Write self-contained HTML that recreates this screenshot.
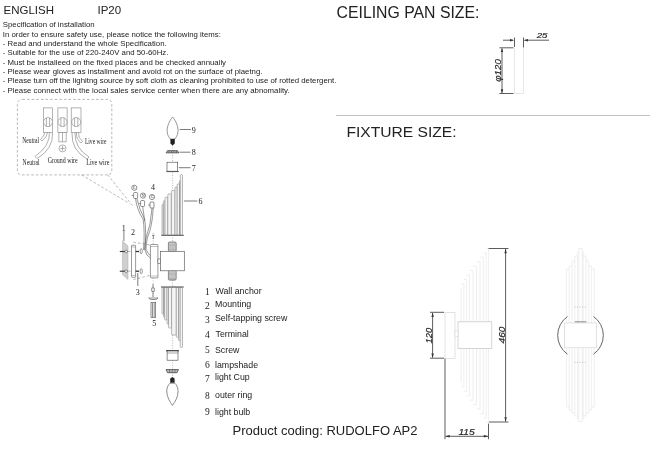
<!DOCTYPE html>
<html><head><meta charset="utf-8">
<style>
html,body{margin:0;padding:0;background:#fff;width:650px;height:449px;overflow:hidden}
svg{position:absolute;left:0;top:0;display:block;will-change:transform}
.s{font-family:"Liberation Sans",sans-serif;fill:#222}
.r{font-family:"Liberation Serif",serif;fill:#222}
</style></head><body>
<svg width="650" height="449" viewBox="0 0 650 449">
<!-- header text -->
<g class="s">
<text x="3.5" y="14.4" font-size="11.5">ENGLISH</text>
<text x="97.5" y="14.4" font-size="11.5">IP20</text>
<g font-size="7.8">
<text x="2.8" y="27.2">Specification of installation</text>
<text x="2.8" y="36.5">In order to ensure safety use, please notice the following items:</text>
<text x="2.8" y="45.9">- Read and understand the whole Specification.</text>
<text x="2.8" y="55.2">- Suitable for the use of 220-240V and 50-60Hz.</text>
<text x="2.8" y="64.6">- Must be installeed on the fixed places and be checked annually</text>
<text x="2.8" y="73.9">- Please wear gloves as installment and avoid rot on the surface of plaetng.</text>
<text x="2.8" y="83.3">- Please turn off the lighitng source by soft cloth as cleaning prohibited to use of rotted detergent.</text>
<text x="2.8" y="92.6">- Please connect with the local sales service center when there are any abnomality.</text>
</g>
<text x="336.6" y="18" font-size="15.8">CEILING PAN SIZE:</text>
<text x="346.5" y="136.5" font-size="15.2" textLength="110" lengthAdjust="spacingAndGlyphs">FIXTURE SIZE:</text>
<text x="232.5" y="435" font-size="13">Product coding: RUDOLFO AP2</text>
<g font-size="8.8">
<text x="215.5" y="293.8">Wall anchor</text>
<text x="215" y="307">Mounting</text>
<text x="215" y="321.2">Self-tapping screw</text>
<text x="215.5" y="337.2">Terminal</text>
<text x="215" y="352.6">Screw</text>
<text x="215" y="368">lampshade</text>
<text x="215" y="380">light Cup</text>
<text x="215" y="397.5">outer ring</text>
<text x="215" y="414.8">light bulb</text>
</g>
</g>
<g class="r" font-size="9.5">
<text x="205" y="295">1</text>
<text x="205" y="308.5">2</text>
<text x="205" y="323">3</text>
<text x="205" y="337.7">4</text>
<text x="205" y="353.4">5</text>
<text x="205" y="368">6</text>
<text x="205" y="382">7</text>
<text x="205" y="398.7">8</text>
<text x="205" y="415">9</text>
</g>
<!-- ceiling pan dims -->
<g stroke="#333" stroke-width="0.8" fill="none">
<line x1="503" y1="40.2" x2="513" y2="40.2"/>
<line x1="514.5" y1="37.5" x2="514.5" y2="47"/>
<line x1="523.5" y1="37.5" x2="523.5" y2="47.5"/>
<line x1="524.5" y1="40.2" x2="549" y2="40.2"/>
<line x1="499.4" y1="47.8" x2="513.5" y2="47.8"/>
<line x1="499.4" y1="93.5" x2="513.5" y2="93.5"/>
<line x1="502" y1="48.5" x2="502" y2="93"/>
</g>
<g fill="#333">
<path d="M514 40.2 L510 39 L510 41.4Z"/>
<path d="M524 40.2 L528 39 L528 41.4Z"/>
<path d="M502 48 L500.8 52 L503.2 52Z"/>
<path d="M502 93.3 L500.8 89.3 L503.2 89.3Z"/>
</g>
<g stroke="#ddd" stroke-width="0.7">
<line x1="514.5" y1="47.8" x2="514.5" y2="93.5"/>
<line x1="523.5" y1="47.8" x2="523.5" y2="93.5"/>
<line x1="514.5" y1="93.5" x2="523.5" y2="93.5"/>
</g>
<text class="s" x="536.8" y="38.3" font-size="6.8" font-style="italic" stroke="#333" stroke-width="0.2" textLength="10.6" lengthAdjust="spacingAndGlyphs">25</text>
<text class="s" font-size="9.2" font-style="italic" stroke="#333" stroke-width="0.2" transform="translate(501.3,81.8) rotate(-90)" textLength="22.6" lengthAdjust="spacingAndGlyphs">&#966;120</text>
<!-- fixture side view -->
<g stroke="#e2e2e2" stroke-width="0.55" fill="none">
<line x1="461.1" y1="288.4" x2="461.1" y2="382.4"/>
<line x1="463.9" y1="283.9" x2="463.9" y2="386.9"/>
<line x1="461.1" y1="283.9" x2="463.9" y2="283.9"/>
<line x1="461.1" y1="386.9" x2="463.9" y2="386.9"/>
<line x1="466.7" y1="279.5" x2="466.7" y2="391.3"/>
<line x1="463.9" y1="279.5" x2="466.7" y2="279.5"/>
<line x1="463.9" y1="391.3" x2="466.7" y2="391.3"/>
<line x1="469.5" y1="275.0" x2="469.5" y2="395.8"/>
<line x1="466.7" y1="275.0" x2="469.5" y2="275.0"/>
<line x1="466.7" y1="395.8" x2="469.5" y2="395.8"/>
<line x1="473.0" y1="270.6" x2="473.0" y2="400.2"/>
<line x1="469.5" y1="270.6" x2="473.0" y2="270.6"/>
<line x1="469.5" y1="400.2" x2="473.0" y2="400.2"/>
<line x1="476.5" y1="266.1" x2="476.5" y2="404.7"/>
<line x1="473.0" y1="266.1" x2="476.5" y2="266.1"/>
<line x1="473.0" y1="404.7" x2="476.5" y2="404.7"/>
<line x1="480.0" y1="261.7" x2="480.0" y2="409.1"/>
<line x1="476.5" y1="261.7" x2="480.0" y2="261.7"/>
<line x1="476.5" y1="409.1" x2="480.0" y2="409.1"/>
<line x1="483.4" y1="257.2" x2="483.4" y2="413.6"/>
<line x1="480.0" y1="257.2" x2="483.4" y2="257.2"/>
<line x1="480.0" y1="413.6" x2="483.4" y2="413.6"/>
<line x1="486.2" y1="252.8" x2="486.2" y2="418.0"/>
<line x1="483.4" y1="252.8" x2="486.2" y2="252.8"/>
<line x1="483.4" y1="418.0" x2="486.2" y2="418.0"/>
<line x1="488.6" y1="248.3" x2="488.6" y2="422.5"/>
<line x1="486.2" y1="248.3" x2="488.6" y2="248.3"/>
<line x1="486.2" y1="422.5" x2="488.6" y2="422.5"/>
</g>
<rect x="458" y="321.8" width="33.8" height="26.8" fill="#fff" stroke="#c4c4c4" stroke-width="0.7"/>
<rect x="445" y="312.3" width="10" height="46.1" fill="#fff" stroke="#d0d0d0" stroke-width="0.6"/>
<rect x="455" y="331" width="3" height="5.7" fill="#fff" stroke="#d0d0d0" stroke-width="0.5"/>
<g stroke="#333" stroke-width="0.8" fill="none">
<line x1="488.5" y1="248.5" x2="508.5" y2="248.5"/>
<line x1="489" y1="422" x2="508.5" y2="422"/>
<line x1="505.6" y1="249" x2="505.6" y2="421.5"/>
<line x1="430" y1="312.3" x2="444" y2="312.3"/>
<line x1="430" y1="358.2" x2="444" y2="358.2"/>
<line x1="432.6" y1="313" x2="432.6" y2="357.5"/>
<line x1="445" y1="358.6" x2="445" y2="439.2"/>
<line x1="488.5" y1="423.6" x2="488.5" y2="439.2"/>
<line x1="445.5" y1="436.3" x2="488" y2="436.3"/>
</g>
<g fill="#333">
<path d="M505.6 248.8 L504.4 253.2 L506.8 253.2Z"/>
<path d="M505.6 421.7 L504.4 417.3 L506.8 417.3Z"/>
<path d="M432.6 312.6 L431.4 317 L433.8 317Z"/>
<path d="M432.6 357.9 L431.4 353.5 L433.8 353.5Z"/>
<path d="M445.3 436.3 L449.7 435.1 L449.7 437.5Z"/>
<path d="M488.2 436.3 L483.8 435.1 L483.8 437.5Z"/>
</g>
<g class="s" font-style="italic" font-size="8.4" stroke="#333" stroke-width="0.2">
<text x="458.4" y="434.7" textLength="16.3" lengthAdjust="spacingAndGlyphs">115</text>
<text transform="translate(432.4,343.4) rotate(-90)" textLength="15.6" lengthAdjust="spacingAndGlyphs">120</text>
<text transform="translate(505.2,343.4) rotate(-90)" textLength="16.7" lengthAdjust="spacingAndGlyphs">460</text>
</g>
<!-- front view -->
<g stroke="#e2e2e2" stroke-width="0.55" fill="none">
<line x1="578.8" y1="248.5" x2="578.8" y2="421.7"/>
<line x1="577.6" y1="252" x2="577.6" y2="419"/>
<line x1="583.2" y1="252" x2="583.2" y2="419"/>
<line x1="574.8" y1="256" x2="574.8" y2="416"/>
<line x1="586.0" y1="256" x2="586.0" y2="416"/>
<line x1="572.0" y1="261" x2="572.0" y2="413"/>
<line x1="588.8" y1="261" x2="588.8" y2="413"/>
<line x1="569.2" y1="266" x2="569.2" y2="410"/>
<line x1="591.6" y1="266" x2="591.6" y2="410"/>
<line x1="566.5" y1="269" x2="566.5" y2="407"/>
<line x1="594.3" y1="269" x2="594.3" y2="407"/>
<line x1="578.6" y1="248.5" x2="582.2" y2="248.5"/>
<line x1="582.2" y1="248.5" x2="582.2" y2="421.7"/>
<line x1="578.6" y1="421.7" x2="582.2" y2="421.7"/>
<line x1="566.5" y1="269" x2="569.2" y2="269"/>
<line x1="566.5" y1="407" x2="569.2" y2="407"/>
<line x1="594.3" y1="269" x2="591.6" y2="269"/>
<line x1="594.3" y1="407" x2="591.6" y2="407"/>
<line x1="569.2" y1="266" x2="572.0" y2="266"/>
<line x1="569.2" y1="410" x2="572.0" y2="410"/>
<line x1="591.6" y1="266" x2="588.8" y2="266"/>
<line x1="591.6" y1="410" x2="588.8" y2="410"/>
<line x1="572.0" y1="261" x2="574.8" y2="261"/>
<line x1="572.0" y1="413" x2="574.8" y2="413"/>
<line x1="588.8" y1="261" x2="586.0" y2="261"/>
<line x1="588.8" y1="413" x2="586.0" y2="413"/>
<line x1="574.8" y1="256" x2="577.6" y2="256"/>
<line x1="574.8" y1="416" x2="577.6" y2="416"/>
<line x1="586.0" y1="256" x2="583.2" y2="256"/>
<line x1="586.0" y1="416" x2="583.2" y2="416"/>
<line x1="577.6" y1="252" x2="578.8" y2="252"/>
<line x1="577.6" y1="419" x2="578.8" y2="419"/>
<line x1="583.2" y1="252" x2="582.2" y2="252"/>
<line x1="583.2" y1="419" x2="582.2" y2="419"/>
</g>
<rect x="564.6" y="323" width="31.9" height="24.8" fill="#fff" stroke="#d0d0d0" stroke-width="0.6"/>
<path d="M567.5 316.5 A23 23 0 0 0 567.5 354.2" fill="none" stroke="#555" stroke-width="0.9"/>
<path d="M593.5 316.5 A23 23 0 0 1 593.5 354.2" fill="none" stroke="#555" stroke-width="0.9"/>
<line x1="574.8" y1="321.8" x2="586.4" y2="321.8" stroke="#888" stroke-width="1"/>
<g stroke="#999" stroke-width="0.6" stroke-dasharray="1 1.6">
<line x1="574.5" y1="307" x2="587" y2="307"/>
<line x1="574.5" y1="362.3" x2="587" y2="362.3"/>
</g>
<!-- exploded diagram -->
<g fill="none" stroke="#999" stroke-width="0.7" stroke-dasharray="2.6 2">
<path d="M22.5 99.4 H107 Q111.8 99.4 111.8 104 V171.5 L109.5 174.9 H22 Q17.4 174.9 17.4 170 V104.5 Q17.4 99.4 22.5 99.4"/>
<line x1="81.7" y1="174.9" x2="129.4" y2="203.5"/>
<line x1="107.7" y1="174.9" x2="133.8" y2="207.2"/>
<line x1="133.4" y1="242.2" x2="150.6" y2="245"/>
<line x1="133.4" y1="279.5" x2="151.7" y2="275"/>
<line x1="128" y1="251.5" x2="134" y2="251.5"/>
<line x1="128" y1="271.2" x2="134" y2="271.2"/>
</g>
<!-- center dotted axis -->
<line x1="172.6" y1="145" x2="172.6" y2="377" stroke="#777" stroke-width="0.5" stroke-dasharray="1 1.5"/>
<line x1="153.2" y1="233" x2="153.2" y2="244" stroke="#777" stroke-width="0.5" stroke-dasharray="1 1.5"/>
<line x1="153.2" y1="278" x2="153.2" y2="298" stroke="#777" stroke-width="0.5" stroke-dasharray="1 1.5"/>
<!-- lampshades -->
<g fill="#f4f4f4" stroke="#808080" stroke-width="0.55">
<rect x="162" y="204.3" width="1.4" height="31.0" rx="0.7"/>
<rect x="163.4" y="200.7" width="1.6" height="34.6" rx="0.8"/>
<rect x="165" y="197.2" width="2.8" height="38.1" rx="1.0"/>
<rect x="167.8" y="194" width="3.6" height="41.3" rx="1.0"/>
<rect x="171.4" y="190.5" width="3.6" height="44.8" rx="1.0"/>
<rect x="175" y="187" width="2.2" height="48.3" rx="1.0"/>
<rect x="177.2" y="183.8" width="2.3" height="51.5" rx="1.0"/>
<rect x="179.5" y="180.7" width="0.8" height="54.6" rx="0.4"/>
<rect x="180.3" y="174.5" width="2.2" height="60.8" rx="1.0"/>
<rect x="162" y="287" width="1.5" height="27.0" rx="0.8"/>
<rect x="163.5" y="287" width="1.1" height="30.0" rx="0.5"/>
<rect x="164.6" y="287" width="2.4" height="33.0" rx="1.0"/>
<rect x="167" y="287" width="1.5" height="37.0" rx="0.8"/>
<rect x="168.5" y="287" width="3.1" height="41.0" rx="1.0"/>
<rect x="171.6" y="287" width="4.7" height="48.0" rx="1.0"/>
<rect x="176.3" y="287" width="2.2" height="50.4" rx="1.0"/>
<rect x="178.5" y="287" width="1.7" height="53.5" rx="0.8"/>
<rect x="180.2" y="287" width="2.3" height="60.5" rx="1.0"/>
</g>
<line x1="161.3" y1="235.3" x2="183.9" y2="235.3" stroke="#555" stroke-width="1"/>
<line x1="161" y1="287" x2="183.8" y2="287" stroke="#555" stroke-width="1"/>
<!-- wall -->
<polygon points="122.5,241 128,246 128,279.5 122.5,274.5" fill="#cfcfcf" stroke="#aaa" stroke-width="0.5"/>
<g stroke="#333" stroke-width="1.1">
<line x1="119.8" y1="251.5" x2="127.8" y2="251.5"/>
<line x1="119.8" y1="271.2" x2="127.8" y2="271.2"/>
<line x1="134" y1="251.5" x2="139" y2="251.5" stroke-width="1.3"/>
<line x1="134" y1="271.2" x2="139" y2="271.2" stroke-width="1.3"/>
</g>
<g fill="#fff" stroke="#555" stroke-width="0.6">
<circle cx="126.2" cy="251.5" r="1.3"/>
<circle cx="126.2" cy="271.2" r="1.3"/>
<ellipse cx="141.2" cy="251.2" rx="1.1" ry="2.6"/>
<ellipse cx="141.2" cy="271.2" rx="1.1" ry="2.6"/>
<rect x="131.5" y="245.2" width="4.1" height="32.1" rx="0.6"/>
<rect x="150.4" y="244.5" width="7.5" height="33.4" rx="0.8"/>
<rect x="157.9" y="259" width="2.5" height="4.4"/>
<rect x="168.4" y="242" width="7.8" height="9.6" rx="1.2" fill="#e4e4e4" stroke="#444"/>
<rect x="168.4" y="270.4" width="7.8" height="9.6" rx="1.2" fill="#e4e4e4" stroke="#444"/>
<rect x="160.4" y="251.3" width="23.9" height="19.5" stroke="#555" stroke-width="0.65"/>
</g>
<g stroke="#777" stroke-width="0.45">
<line x1="168.6" y1="243.0" x2="175.8" y2="243.0"/>
<line x1="168.6" y1="244.3" x2="175.8" y2="244.3"/>
<line x1="168.6" y1="245.6" x2="175.8" y2="245.6"/>
<line x1="168.6" y1="246.9" x2="175.8" y2="246.9"/>
<line x1="168.6" y1="248.2" x2="175.8" y2="248.2"/>
<line x1="168.6" y1="249.5" x2="175.8" y2="249.5"/>
<line x1="168.6" y1="250.8" x2="175.8" y2="250.8"/>
<line x1="168.6" y1="272.0" x2="175.8" y2="272.0"/>
<line x1="168.6" y1="273.3" x2="175.8" y2="273.3"/>
<line x1="168.6" y1="274.6" x2="175.8" y2="274.6"/>
<line x1="168.6" y1="275.9" x2="175.8" y2="275.9"/>
<line x1="168.6" y1="277.2" x2="175.8" y2="277.2"/>
<line x1="168.6" y1="278.5" x2="175.8" y2="278.5"/>
<line x1="168.6" y1="279.8" x2="175.8" y2="279.8"/>
<line x1="150.4" y1="246.5" x2="157.9" y2="246.5"/>
<line x1="150.4" y1="276" x2="157.9" y2="276"/>
<line x1="131.5" y1="247" x2="135.6" y2="247"/>
<line x1="131.5" y1="275.5" x2="135.6" y2="275.5"/>
</g>
<!-- screws -->
<g stroke="#444" stroke-width="0.6" fill="#fff">
<line x1="152" y1="235.3" x2="154.6" y2="235.3"/>
<line x1="153.3" y1="235.3" x2="153.3" y2="239"/>
<line x1="153" y1="284" x2="153" y2="297"/>
<rect x="151.8" y="288" width="2.4" height="3.2"/>
<path d="M148.7 298 H158 L156 299.5 H150.7Z"/>
<rect x="151" y="302.6" width="4.7" height="14.8"/>
<line x1="152.5" y1="303" x2="152.5" y2="317"/><line x1="154.2" y1="303" x2="154.2" y2="317"/>
</g>
<!-- terminals in box -->
<g fill="#fff" stroke="#808080" stroke-width="0.6">
<rect x="43.3" y="107.9" width="9.4" height="24.6"/>
<rect x="57.9" y="107.9" width="9.2" height="24.6"/>
<rect x="71.2" y="107.9" width="9.8" height="24.6"/>
<rect x="58.9" y="132.5" width="7.2" height="9.4"/>
<line x1="62.5" y1="132.5" x2="62.5" y2="141.9"/>
<circle cx="48" cy="122.1" r="4.5"/>
<circle cx="62.5" cy="122.1" r="4.5"/>
<circle cx="76.2" cy="122.1" r="4.5"/>
<circle cx="62.5" cy="148.4" r="3.5"/>
</g>
<g stroke="#7a7a7a" stroke-width="0.6" fill="none">
<line x1="46.4" y1="117.8" x2="46.4" y2="126.4"/><line x1="49.6" y1="117.8" x2="49.6" y2="126.4"/>
<line x1="60.9" y1="117.8" x2="60.9" y2="126.4"/><line x1="64.1" y1="117.8" x2="64.1" y2="126.4"/>
<line x1="74.6" y1="117.8" x2="74.6" y2="126.4"/><line x1="77.8" y1="117.8" x2="77.8" y2="126.4"/>
<line x1="62.5" y1="146" x2="62.5" y2="150.8"/><line x1="60.1" y1="148.4" x2="64.9" y2="148.4"/>
<!-- neutral wire -->
<path d="M49.5 132.5 Q50 146 35 156.5"/>
<path d="M52.5 132.5 Q53.5 149 37 158.5"/>
<path d="M35 156.5 L37 158.5"/>
<path d="M45 132.5 Q44 136 40.5 139.5 L42 141"/>
<path d="M47.5 132.5 Q47 137 42 141"/>
<!-- live wire -->
<path d="M72 132.5 Q71 150 87 159"/>
<path d="M75 132.5 Q74.5 148 89 157"/>
<path d="M87 159 L89 157"/>
<path d="M78.5 132.5 Q78 138 82.5 141.5 L81 143"/>
<path d="M76.5 132.5 Q76 139 81 143"/>
</g>
<g class="r" fill="#222" font-size="7.6">
<text x="22.2" y="142.8" textLength="17" lengthAdjust="spacingAndGlyphs">Neutral</text>
<text x="22.6" y="164.8" textLength="17" lengthAdjust="spacingAndGlyphs">Neutral</text>
<text x="47.7" y="163" textLength="30" lengthAdjust="spacingAndGlyphs">Ground wire</text>
<text x="84.9" y="144.1" textLength="21.6" lengthAdjust="spacingAndGlyphs">Live wire</text>
<text x="86.2" y="164.9" textLength="23.3" lengthAdjust="spacingAndGlyphs">Live wire</text>
</g>
<!-- terminal block 4 -->
<g fill="#fff" stroke="#444" stroke-width="0.6">
<circle cx="134.3" cy="187.8" r="2.6"/>
<circle cx="143" cy="195.6" r="2.6"/>
<circle cx="152" cy="197" r="2.6"/>
<rect x="133.6" y="192.5" width="4" height="6" rx="1"/>
<rect x="140.6" y="200.5" width="4" height="6" rx="1"/>
<rect x="150" y="202" width="4" height="6" rx="1"/>
</g>
<g class="r" font-size="4" fill="#222">
<text x="133.2" y="189.1">L</text><text x="141.7" y="196.9">N</text><text x="150.8" y="198.3">G</text>
</g>
<g stroke="#555" stroke-width="0.6" fill="none">
<line x1="131.6" y1="195.5" x2="133.6" y2="195.5"/>
<line x1="138.6" y1="203.5" x2="140.6" y2="203.5"/>
<line x1="148" y1="205" x2="150" y2="205"/>
<path d="M135.5 198.5 Q137 210 143 219 Q145 230 143.5 250"/>
<path d="M137 198.5 Q139 209 144.6 219 Q146.5 230 145 250"/>
<path d="M142.6 206.5 Q144 214 144.5 221"/>
<path d="M152 208 Q151 225 146 238 Q144.8 244 144.6 250"/>
<path d="M153.2 208 Q152.5 226 147.3 238 Q146 244 146 250"/>
<path d="M145 250 Q146 256 150.5 258"/>
<path d="M146.5 250 Q147.5 254 150.5 255.5"/>
</g>
<!-- numbers -->
<g class="r" font-size="8" fill="#222">
<text x="191.8" y="132.7">9</text>
<text x="191.8" y="155">8</text>
<text x="191.8" y="170.9">7</text>
<text x="198.6" y="203.8">6</text>
<text x="151" y="190">4</text>
<text x="121.8" y="230.5">1</text>
<text x="131" y="234.5">2</text>
<text x="135.8" y="294.8">3</text>
<text x="152.2" y="326">5</text>
</g>
<g stroke="#444" stroke-width="0.7">
<line x1="179.7" y1="129.5" x2="190.9" y2="129.5"/>
<line x1="179.6" y1="152.2" x2="190.5" y2="152.2"/>
<line x1="178.8" y1="167.7" x2="190.5" y2="167.7"/>
<line x1="183.9" y1="201" x2="197.3" y2="201"/>
<line x1="123.9" y1="231" x2="123.9" y2="241"/>
<line x1="137.8" y1="272.9" x2="137.8" y2="286"/>
</g>
<!-- top bulb -->
<path d="M172.6 117 C176 121 178.5 127 178 132 C177.5 136 175.5 138 175 139 L170.2 139 C169.7 138 167.5 136 167.2 132 C166.7 127 169.2 121 172.6 117Z" fill="#fff" stroke="#555" stroke-width="0.6"/>
<path d="M170.4 139 H174.8 V143.5 L172.6 145.5 L170.4 143.5Z" fill="#222"/>
<!-- top outer ring -->
<path d="M166 152.9 L167.5 150.6 H177.5 L179 152.9Z" fill="#aaa" stroke="#333" stroke-width="0.6"/>
<g stroke="#444" stroke-width="0.5"><line x1="169" y1="150.6" x2="169" y2="152.9"/><line x1="171.5" y1="150.6" x2="171.5" y2="152.9"/><line x1="174" y1="150.6" x2="174" y2="152.9"/><line x1="176.5" y1="150.6" x2="176.5" y2="152.9"/></g>
<!-- top light cup -->
<rect x="167" y="162.2" width="10.7" height="9" fill="#fff" stroke="#444" stroke-width="0.6"/>
<line x1="166.4" y1="171.6" x2="178.8" y2="171.6" stroke="#555" stroke-width="1"/>
<!-- bottom light cup -->
<rect x="167.1" y="350.6" width="10.9" height="9.6" fill="#fff" stroke="#444" stroke-width="0.6"/>
<line x1="166" y1="350.8" x2="179" y2="350.8" stroke="#333" stroke-width="1"/>
<line x1="167.1" y1="353" x2="178" y2="353" stroke="#444" stroke-width="0.5"/>
<!-- bottom outer ring -->
<path d="M166 369.6 H178.5 L177 372.7 H167.5Z" fill="#bbb" stroke="#333" stroke-width="0.7"/>
<g stroke="#444" stroke-width="0.5"><line x1="169.5" y1="369.6" x2="169.5" y2="372.7"/><line x1="172.2" y1="369.6" x2="172.2" y2="372.7"/><line x1="175" y1="369.6" x2="175" y2="372.7"/></g>
<!-- bottom bulb -->
<path d="M170.2 378.5 L172.4 377 L174.6 378.5 V382.8 H170.2Z" fill="#222"/>
<path d="M170 383.2 C168 385 166.5 388 166.8 392 C167 397 170 402 172.4 405.4 C175 402 178 397 178 392 C178.3 388 176.8 385 174.8 383.2Z" fill="#fff" stroke="#444" stroke-width="0.6"/>
<!-- separator line -->
<line x1="336" y1="115.5" x2="650" y2="115.5" stroke="#c2c2c2" stroke-width="1"/>
</svg>
</body></html>
